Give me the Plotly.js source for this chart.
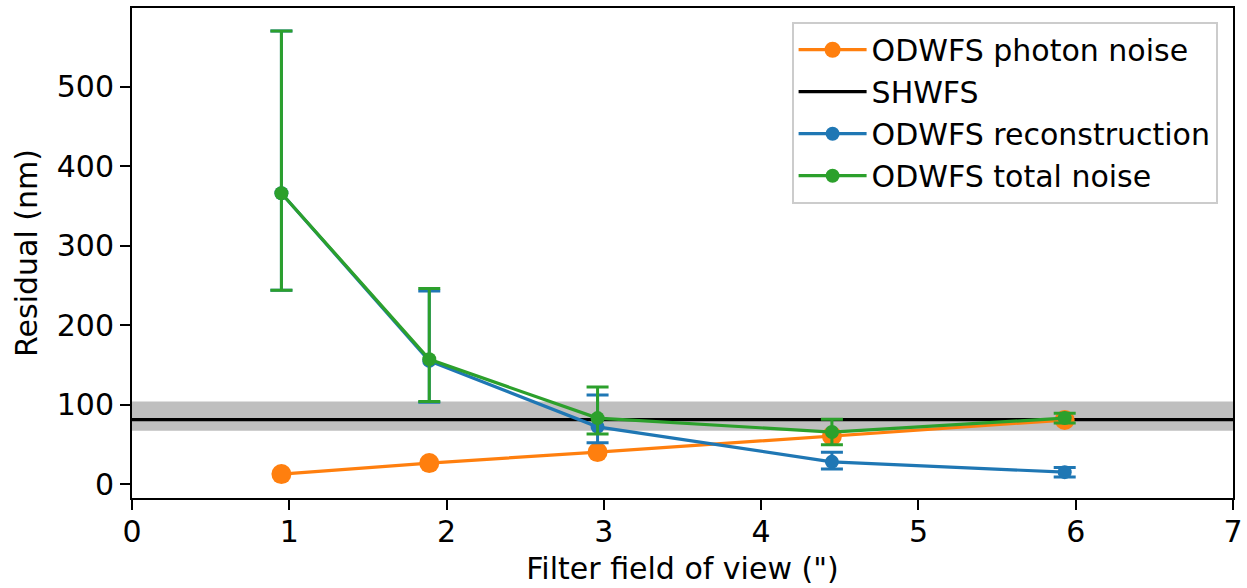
<!DOCTYPE html>
<html>
<head>
<meta charset="utf-8">
<script src="https://cdn.plot.ly/plotly-3.0.1.min.js"></script>
<style>html,body{margin:0;padding:0;background:#fff;}#chart{width:1247px;height:588px;}</style>
</head>
<body>
<div id="chart"></div>
<script>
// Data
const fov = [0.95, 1.89, 2.96, 4.45, 5.93];
const photonNoise = [12.6, 26.4, 40.3, 60.5, 80.6];
const reconstruction = [366, 155, 72, 28, 15];
const reconErrPlus = [204, 88, 40, 12, 6];
const reconErrMinus = [122, 52, 20, 9, 6];
const totalNoise = [366, 157, 83, 65.5, 83];
const totalErrPlus = [204, 89, 39, 16, 6];
const totalErrMinus = [122, 53, 20, 16, 6];
const shwfsValue = 81;
const shwfsLow = 67;
const shwfsHigh = 104;
const xRange = [0, 7];
const yRange = [-17.5, 599];
const xTicks = [0, 1, 2, 3, 4, 5, 6, 7];
const yTicks = [0, 100, 200, 300, 400, 500];

const orange = '#ff7f0e', blue = '#1f77b4', green = '#2ca02c';

const traces = [
  {
    x: xRange, y: [shwfsValue, shwfsValue], mode: 'lines', name: 'SHWFS',
    line: {color: '#000000', width: 3.2}, legendrank: 2
  },
  {
    x: fov, y: photonNoise, mode: 'lines+markers', name: 'ODWFS photon noise',
    line: {color: orange, width: 3.2}, marker: {color: orange, size: 20}, legendrank: 1
  },
  {
    x: fov, y: reconstruction, mode: 'lines+markers', name: 'ODWFS reconstruction',
    line: {color: blue, width: 3.2}, marker: {color: blue, size: 14},
    error_y: {type: 'data', symmetric: false, array: reconErrPlus, arrayminus: reconErrMinus,
              color: blue, thickness: 3, width: 11},
    legendrank: 3
  },
  {
    x: fov, y: totalNoise, mode: 'lines+markers', name: 'ODWFS total noise',
    line: {color: green, width: 3.2}, marker: {color: green, size: 14},
    error_y: {type: 'data', symmetric: false, array: totalErrPlus, arrayminus: totalErrMinus,
              color: green, thickness: 3, width: 11},
    legendrank: 4
  }
];

const font = {family: 'DejaVu Sans, sans-serif', size: 30, color: '#000'};

const layout = {
  width: 1247, height: 588,
  margin: {l: 132, r: 14, t: 8, b: 90},
  paper_bgcolor: '#fff', plot_bgcolor: '#fff',
  font: font,
  showlegend: true,
  legend: {
    x: 0.986, y: 0.972, xanchor: 'right', yanchor: 'top',
    bgcolor: 'rgba(255,255,255,0.9)', bordercolor: '#cccccc', borderwidth: 2,
    font: font,
    tracegroupgap: 0, itemwidth: 68
  },
  xaxis: {
    range: xRange, tickvals: xTicks, ticktext: xTicks.map(String),
    showgrid: false, zeroline: false, showline: true, linecolor: '#000', linewidth: 2,
    mirror: true, ticks: 'outside', ticklen: 10, tickwidth: 2, tickcolor: '#000',
    tickfont: font, ticklabelstandoff: -4,
    title: {text: 'Filter field of view (")', font: font, standoff: 10}
  },
  yaxis: {
    range: yRange, tickvals: yTicks, ticktext: yTicks.map(String),
    showgrid: false, zeroline: false, showline: true, linecolor: '#000', linewidth: 2,
    mirror: true, ticks: 'outside', ticklen: 10, tickwidth: 2, tickcolor: '#000',
    tickfont: font,
    title: {text: 'Residual (nm)', font: font, standoff: 10}
  },
  shapes: [
    {type: 'rect', xref: 'x', yref: 'y', x0: xRange[0], x1: xRange[1], y0: shwfsLow, y1: shwfsHigh,
     fillcolor: '#bfbfbf', line: {width: 0}, layer: 'below'}
  ]
};

Plotly.newPlot('chart', traces, layout, {displayModeBar: false, staticPlot: true});
</script>
</body>
</html>
